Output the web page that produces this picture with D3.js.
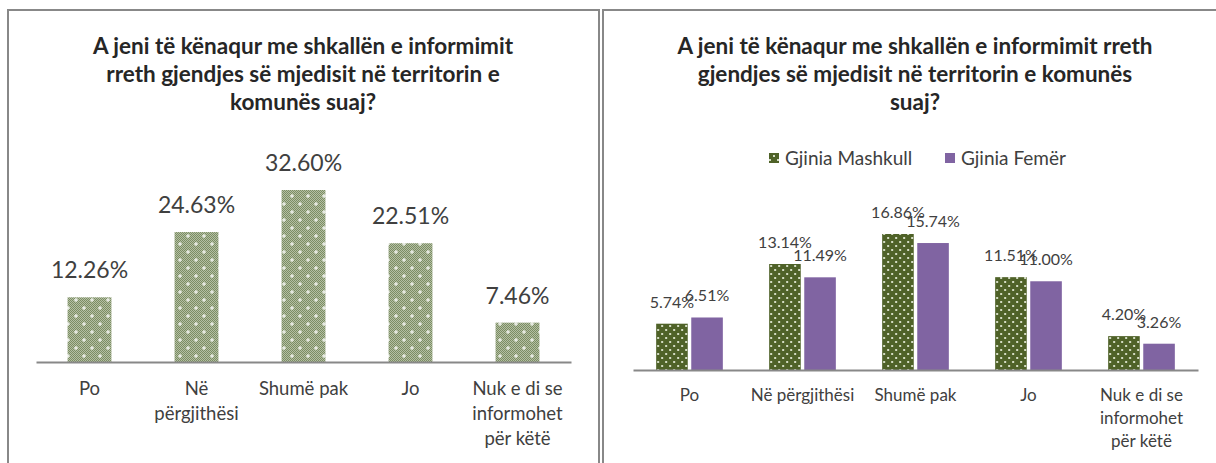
<!DOCTYPE html>
<html>
<head>
<meta charset="utf-8">
<script src="https://cdn.jsdelivr.net/npm/d3@7"></script>
<style>
  body { margin: 0; background: #fff; }
  svg { display: block; font-family: Lato, "Noto Sans", sans-serif; }
</style>
</head>
<body>
<svg id="chart" width="1216" height="463"></svg>
<script>
// data
var categories = ["Po", "Në përgjithësi", "Shumë pak", "Jo", "Nuk e di se informohet për këtë"];
var leftLabels = [["Po"], ["Në", "përgjithësi"], ["Shumë pak"], ["Jo"], ["Nuk e di se", "informohet", "për këtë"]];
var rightLabels = [["Po"], ["Në përgjithësi"], ["Shumë pak"], ["Jo"], ["Nuk e di se", "informohet", "për këtë"]];
var totalValues = [12.26, 24.63, 32.60, 22.51, 7.46];
var maleValues = [5.74, 13.14, 16.86, 11.51, 4.20];
var femaleValues = [6.51, 11.49, 15.74, 11.00, 3.26];
var seriesNames = ["Gjinia Mashkull", "Gjinia Femër"];
var leftTitle = ["A jeni të kënaqur me shkallën e informimit", "rreth gjendjes së mjedisit në territorin e", "komunës suaj?"];
var rightTitle = ["A jeni të kënaqur me shkallën e informimit rreth", "gjendjes së mjedisit në territorin e komunës", "suaj?"];

var svg = d3.select("#chart");
var defs = svg.append("defs");

// fine checker + white crosses for the left chart
var chk = defs.append("pattern").attr("id", "checker")
  .attr("width", 2).attr("height", 2).attr("patternUnits", "userSpaceOnUse");
chk.append("rect").attr("width", 2).attr("height", 2).attr("fill", "#b4bfa4");
chk.append("rect").attr("width", 1).attr("height", 1).attr("fill", "#7b8d63");
chk.append("rect").attr("x", 1).attr("y", 1).attr("width", 1).attr("height", 1).attr("fill", "#7b8d63");

var cross = defs.append("pattern").attr("id", "crossPat")
  .attr("width", 16).attr("height", 16).attr("patternUnits", "userSpaceOnUse");
cross.append("rect").attr("width", 16).attr("height", 16).attr("fill", "url(#checker)");
[[4, 4], [12, 12]].forEach(function (p) {
  cross.append("rect").attr("x", p[0] - 2).attr("y", p[1] - 0.5).attr("width", 4).attr("height", 1).attr("fill", "#fff");
  cross.append("rect").attr("x", p[0] - 0.5).attr("y", p[1] - 2).attr("width", 1).attr("height", 4).attr("fill", "#fff");
});

// dark green with dots for the male series
var dots = defs.append("pattern").attr("id", "dotPat")
  .attr("width", 8).attr("height", 8).attr("patternUnits", "userSpaceOnUse");
dots.append("rect").attr("width", 8).attr("height", 8).attr("fill", "#4f6228");
[[2, 2], [6, 6]].forEach(function (p) {
  dots.append("rect").attr("x", p[0] - 1).attr("y", p[1] - 1).attr("width", 2).attr("height", 2).attr("fill", "#d4dcc4");
});

var seriesFill = ["url(#dotPat)", "#8064a2"];
var textColor = "#404040";

// panel borders
svg.append("path")
  .attr("d", "M8,463 V10 H599 V463")
  .attr("fill", "none").attr("stroke", "#888").attr("stroke-width", 2);
svg.append("path")
  .attr("d", "M603,463 V10 H1216")
  .attr("fill", "none").attr("stroke", "#888").attr("stroke-width", 2);

// ---------- left chart ----------
var left = svg.append("g");

left.append("g").selectAll("text")
  .data(leftTitle).enter().append("text")
  .attr("x", 303).attr("y", function (d, i) { return 54 + i * 28; })
  .attr("text-anchor", "middle")
  .attr("font-size", 22.5).attr("font-weight", "bold").attr("fill", "#262626")
  .text(function (d) { return d; });

var lx = d3.scaleBand().domain(categories).range([36, 571]).paddingInner(0.59).paddingOuter(0.295);
var ly = d3.scaleLinear().domain([0, 32.6]).range([362, 190]);

left.append("g").selectAll("rect")
  .data(totalValues).enter().append("rect")
  .attr("x", function (d, i) { return lx(categories[i]); })
  .attr("y", function (d) { return ly(d); })
  .attr("width", lx.bandwidth())
  .attr("height", function (d) { return ly(0) - ly(d); })
  .attr("fill", "url(#crossPat)");

left.append("g").selectAll("text")
  .data(totalValues).enter().append("text")
  .attr("x", function (d, i) { return lx(categories[i]) + lx.bandwidth() / 2; })
  .attr("y", function (d) { return ly(d) - 19; })
  .attr("text-anchor", "middle")
  .attr("font-size", 23).attr("fill", textColor)
  .text(function (d) { return d.toFixed(2) + "%"; });

var lAxis = left.append("g")
  .attr("transform", "translate(0," + ly(0) + ")")
  .call(d3.axisBottom(lx).tickSize(0).tickFormat(""));
lAxis.select(".domain").attr("stroke", "#888").attr("stroke-width", 2);

left.append("g").selectAll("text")
  .data(leftLabels).enter().append("text")
  .attr("x", function (d, i) { return lx(categories[i]) + lx.bandwidth() / 2; })
  .attr("y", 395)
  .attr("text-anchor", "middle")
  .attr("font-size", 18.5).attr("fill", textColor)
  .each(function (d) {
    var t = d3.select(this);
    d.forEach(function (line, j) {
      t.append("tspan").attr("x", t.attr("x")).attr("dy", j === 0 ? 0 : 25).text(line);
    });
  });

// ---------- right chart ----------
var right = svg.append("g");

right.append("g").selectAll("text")
  .data(rightTitle).enter().append("text")
  .attr("x", 915).attr("y", function (d, i) { return 54 + i * 28; })
  .attr("text-anchor", "middle")
  .attr("font-size", 22.5).attr("font-weight", "bold").attr("fill", "#262626")
  .text(function (d) { return d; });

// legend
var legend = right.append("g").attr("transform", "translate(0,158)");
var legendX = [769, 945];
seriesNames.forEach(function (name, i) {
  legend.append("rect").attr("x", legendX[i]).attr("y", -5).attr("width", 10).attr("height", 10)
    .attr("fill", seriesFill[i]);
  legend.append("text").attr("x", legendX[i] + 16).attr("y", 7)
    .attr("font-size", 19).attr("fill", textColor).text(name);
});

var rx = d3.scaleBand().domain(categories).range([633, 1198]).paddingInner(0.41).paddingOuter(0.205);
var rs = d3.scaleBand().domain([0, 1]).range([0, rx.bandwidth()]).paddingInner(0.1);
var ry = d3.scaleLinear().domain([0, 16.86]).range([370, 234]);

var groups = right.append("g").selectAll("g")
  .data(categories).enter().append("g")
  .attr("transform", function (d) { return "translate(" + rx(d) + ",0)"; });

groups.selectAll("rect")
  .data(function (d, i) { return [maleValues[i], femaleValues[i]]; })
  .enter().append("rect")
  .attr("x", function (d, j) { return rs(j); })
  .attr("y", function (d) { return ry(d); })
  .attr("width", rs.bandwidth())
  .attr("height", function (d) { return ry(0) - ry(d); })
  .attr("fill", function (d, j) { return seriesFill[j]; });

groups.selectAll("text")
  .data(function (d, i) { return [maleValues[i], femaleValues[i]]; })
  .enter().append("text")
  .attr("x", function (d, j) { return rs(j) + rs.bandwidth() / 2; })
  .attr("y", function (d) { return ry(d) - 16; })
  .attr("text-anchor", "middle")
  .attr("font-size", 16).attr("fill", textColor)
  .text(function (d) { return d.toFixed(2) + "%"; });

var rAxis = right.append("g")
  .attr("transform", "translate(0," + ry(0) + ")")
  .call(d3.axisBottom(rx).tickSize(0).tickFormat(""));
rAxis.select(".domain").attr("stroke", "#888").attr("stroke-width", 2);

right.append("g").selectAll("text")
  .data(rightLabels).enter().append("text")
  .attr("x", function (d, i) { return rx(categories[i]) + rx.bandwidth() / 2; })
  .attr("y", 401)
  .attr("text-anchor", "middle")
  .attr("font-size", 17).attr("fill", textColor)
  .each(function (d) {
    var t = d3.select(this);
    d.forEach(function (line, j) {
      t.append("tspan").attr("x", t.attr("x")).attr("dy", j === 0 ? 0 : 23).text(line);
    });
  });
</script>
</body>
</html>
